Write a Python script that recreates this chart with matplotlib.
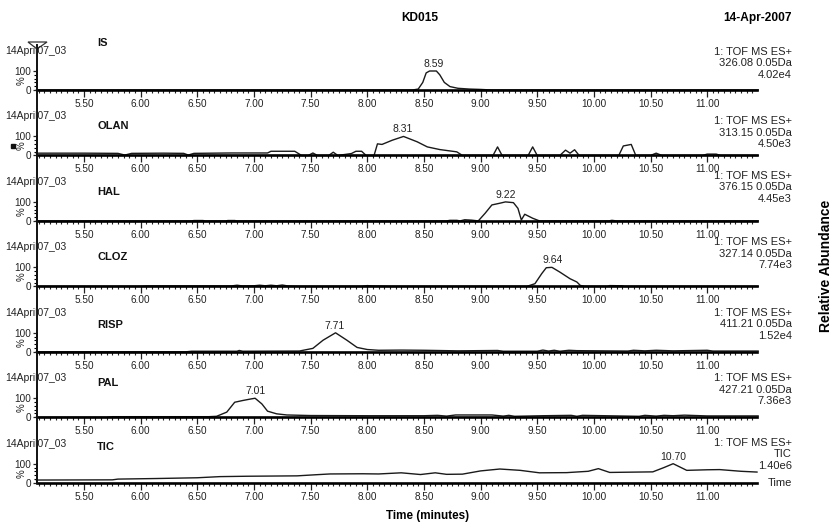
import matplotlib.pyplot as plt
from matplotlib.ticker import MultipleLocator, FixedLocator, FormatStrFormatter
from matplotlib.lines import Line2D
from matplotlib.patches import Polygon, Rectangle

plt.rcParams['font.family'] = ['Liberation Sans', 'DejaVu Sans']

W, H = 836, 524

# chromatogram info, one entry per trace (top to bottom)
names = ['IS', 'OLAN', 'HAL', 'CLOZ', 'RISP', 'PAL', 'TIC']
mass_lines = ['326.08 0.05Da', '313.15 0.05Da', '376.15 0.05Da', '327.14 0.05Da',
              '411.21 0.05Da', '427.21 0.05Da', 'TIC']
intensities = ['4.02e4', '4.50e3', '4.45e3', '7.74e3', '1.52e4', '7.36e3', '1.40e6']
peak_times = [8.59, 8.31, 9.22, 9.64, 7.71, 7.01, 10.70]

# traces (time in minutes, relative abundance in %)
is_t = [5.08, 8.40, 8.45, 8.49, 8.52, 8.55, 8.61, 8.64, 8.68, 8.73, 8.80, 8.90, 9.00, 9.10, 11.45]
is_y = [0, 0, 5, 40, 90, 100, 100, 80, 40, 18, 9, 5, 3, 0, 0]

olan_t = [5.08, 5.50, 5.80, 5.86, 5.92, 6.20, 6.38, 6.42, 6.47, 6.80, 7.12, 7.15, 7.36, 7.42,
          7.48, 7.52, 7.56, 7.66, 7.70, 7.74, 7.86, 7.90, 7.95, 7.99, 8.06, 8.09, 8.13, 8.22,
          8.32, 8.44, 8.53, 8.64, 8.79, 8.84, 9.11, 9.15, 9.19, 9.42, 9.46, 9.50, 9.70, 9.75,
          9.79, 9.83, 9.87, 10.22, 10.26, 10.33, 10.37, 10.50, 10.55, 10.60, 10.96, 11.00,
          11.08, 11.12, 11.45]
olan_y = [12, 12, 11, 2, 11, 12, 11, 2, 11, 13, 13, 22, 22, 0,
          0, 13, 0, 0, 17, 0, 10, 22, 22, 0, 0, 61, 58, 80,
          100, 72, 45, 31, 19, 0, 0, 45, 0, 0, 45, 0, 0, 28,
          12, 30, 0, 0, 50, 58, 0, 0, 12, 0, 0, 7,
          7, 0, 0]

hal_t = [5.08, 6.45, 6.47, 6.55, 6.57, 6.75, 6.77, 6.83, 6.85, 8.70, 8.73, 8.79, 8.82, 8.86,
         8.92, 8.98, 9.04, 9.10, 9.17, 9.22, 9.29, 9.33, 9.36, 9.39, 9.46, 9.52, 10.13, 10.16,
         10.20, 11.45]
hal_y = [0, 0, 2, 2, 0, 0, 2, 2, 0, 0, 3, 3, 0, 6,
         4, 0, 40, 84, 93, 100, 96, 66, 5, 35, 14, 0, 0, 3,
         0, 0]

cloz_t = [5.08, 6.00, 6.05, 6.80, 6.85, 6.90, 7.00, 7.05, 7.10, 7.15, 7.20, 7.25, 7.30, 7.40,
          7.95, 8.00, 8.05, 8.20, 9.41, 9.48, 9.54, 9.58, 9.63, 9.70, 9.79, 9.85, 9.88, 9.92,
          10.12, 10.14, 10.25, 10.27, 11.45]
cloz_y = [0, 0, 2, 2, 6, 2, 3, 6, 3, 6, 3, 7, 2, 0,
          0, 4, 2, 0, 0, 14, 67, 98, 100, 75, 40, 23, 5, 0,
          0, 4, 3, 0, 0]

risp_t = [5.08, 6.40, 6.45, 6.85, 6.87, 6.90, 7.40, 7.52, 7.61, 7.72, 7.82, 7.91, 8.00, 8.10,
          8.30, 8.50, 8.80, 9.15, 9.20, 9.50, 9.55, 9.60, 9.65, 9.70, 9.78, 9.85, 10.30, 10.35,
          10.45, 10.55, 10.70, 11.00, 11.05, 11.45]
risp_y = [0, 0, 3, 3, 7, 3, 4, 18, 61, 100, 61, 23, 12, 8,
          9, 8, 5, 7, 3, 3, 9, 4, 8, 3, 8, 6, 4, 8,
          5, 8, 5, 8, 4, 4]

pal_t = [5.08, 5.70, 5.75, 6.00, 6.60, 6.67, 6.76, 6.83, 6.90, 6.97, 7.01, 7.07, 7.12, 7.20,
         7.29, 7.50, 8.00, 8.50, 8.62, 8.70, 8.78, 9.10, 9.20, 9.25, 9.30, 9.55, 9.80, 9.85,
         9.90, 10.40, 10.45, 10.55, 10.62, 10.70, 10.80, 11.00, 11.45]
pal_y = [0, 0, 3, 3, 3, 5, 27, 79, 88, 96, 100, 70, 32, 18,
         12, 9, 8, 8, 10, 6, 12, 12, 6, 10, 5, 8, 10, 5,
         10, 5, 10, 6, 10, 8, 11, 7, 7]

tic_t = [5.08, 5.75, 5.80, 6.14, 6.50, 6.70, 6.94, 7.38, 7.55, 7.67, 7.96, 8.10, 8.30, 8.47,
         8.60, 8.70, 8.84, 9.00, 9.17, 9.35, 9.52, 9.76, 9.95, 10.04, 10.14, 10.52, 10.62,
         10.70, 10.82, 11.00, 11.11, 11.30, 11.44]
tic_y = [14, 15, 19, 22, 26, 32, 34, 36, 42, 46, 47, 46, 52, 43,
         52, 44, 45, 62, 72, 65, 52, 53, 60, 74, 54, 57, 80,
         100, 65, 68, 69, 60, 56]

traces = [(is_t, is_y), (olan_t, olan_y), (hal_t, hal_y), (cloz_t, cloz_y),
          (risp_t, risp_y), (pal_t, pal_y), (tic_t, tic_y)]

# layout in pixels
baselines = [90 + 65.45 * i for i in range(7)]
name_off = [47, 29, 29, 29, 27, 34, 36]
right_off = [38, 34, 45, 44, 39, 39, 40]
x_left, x_right = 37, 757
panel_h = 19


def fx(x):
    return x / W


def fy(y):
    return 1 - y / H


fig = plt.figure(figsize=(W / 100, H / 100), dpi=100)

for i, base in enumerate(baselines):
    ax = fig.add_axes([fx(x_left), fy(base), (x_right - x_left) / W, panel_h / H])
    ax.set_xlim(5.085, 11.44)
    ax.set_ylim(0, 100)
    ax.patch.set_visible(False)
    t, y = traces[i]
    ax.plot(t, y, color='#1a1a1a', lw=1.0, clip_on=False)
    ax.annotate(f'{peak_times[i]:.2f}', xy=(peak_times[i], 100), xytext=(0, 1.5),
                textcoords='offset points', ha='center', va='bottom', fontsize=7.5,
                color='#222222')

    for s in ['top', 'right']:
        ax.spines[s].set_visible(False)
    ax.spines['bottom'].set_linewidth(1.9)
    ax.spines['left'].set_linewidth(1.4)

    ax.xaxis.set_major_locator(MultipleLocator(0.5))
    ax.xaxis.set_minor_locator(MultipleLocator(0.05))
    ax.xaxis.set_major_formatter(FormatStrFormatter('%.2f'))
    ax.tick_params(axis='x', which='major', length=5, width=0.9, labelsize=7.2, pad=1.5,
                   colors='#222222')
    ax.tick_params(axis='x', which='minor', length=2.5, width=0.8, colors='#222222')

    ax.yaxis.set_major_locator(FixedLocator([0, 100]))
    ax.yaxis.set_minor_locator(MultipleLocator(20))
    ax.tick_params(axis='y', which='major', length=3, width=0.9, labelsize=7.2, pad=1,
                   colors='#222222')
    ax.tick_params(axis='y', which='minor', length=2, width=0.8)
    ax.text(-0.021, 0.5, '%', rotation=90, transform=ax.transAxes, ha='center',
            va='center', fontsize=7, color='#222222')

    fig.text(fx(5), fy(base - 39), '14April07_03', ha='left', va='center', fontsize=7.5,
             color='#222222')
    fig.text(fx(97), fy(base - name_off[i]), names[i], ha='left', va='center',
             fontsize=8, fontweight='bold', color='#111111')
    lines = ['1: TOF MS ES+', mass_lines[i], intensities[i]]
    for k, s in enumerate(lines):
        fig.text(fx(792), fy(base - right_off[i] + 11.5 * k), s, ha='right', va='center',
                 fontsize=8, color='#222222')

# continuous vertical time axis line and marker at its top
fig.add_artist(Line2D([fx(x_left), fx(x_left)], [fy(45), fy(baselines[-1])],
                      color='#111111', lw=1.4))
fig.add_artist(Polygon([[fx(28), fy(42)], [fx(47), fy(42)], [fx(37), fy(49)]],
                       closed=True, fill=False, edgecolor='#333333', lw=0.9,
                       transform=fig.transFigure))
fig.add_artist(Rectangle((fx(11), fy(148)), 4 / W, 4 / H, color='#111111',
                         transform=fig.transFigure))

fig.text(fx(792), fy(baselines[-1]), 'Time', ha='right', va='center', fontsize=8,
         color='#222222')
fig.text(fx(420), fy(18), 'KD015', ha='center', va='center', fontsize=8.6,
         fontweight='bold')
fig.text(fx(792), fy(18), '14-Apr-2007', ha='right', va='center', fontsize=8.6,
         fontweight='bold')
fig.text(fx(428), fy(516), 'Time (minutes)', ha='center', va='center', fontsize=8.4,
         fontweight='bold')
fig.text(fx(826), fy(266), 'Relative Abundance', rotation=90, ha='center', va='center',
         fontsize=10, fontweight='bold')

fig.savefig('out.png', dpi=100, facecolor='white')
